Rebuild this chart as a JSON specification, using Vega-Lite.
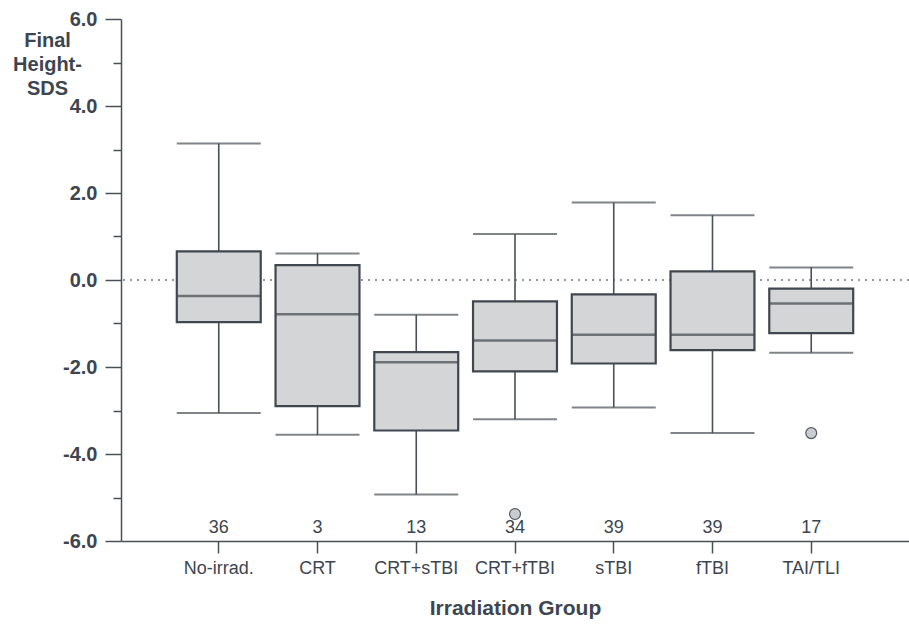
{
  "$schema": "https://vega.github.io/schema/vega-lite/v6.json",
  "width": 788,
  "height": 522,
  "autosize": {"type": "none"},
  "padding": {"left": 121, "top": 19, "right": 0, "bottom": 84},
  "background": "white",
  "config": {"view": {"stroke": null}, "font": "Liberation Sans"},
  "datasets": {
    "boxes": [
      {"group": "No-irrad.", "n": 36, "lower": -3.06, "q1": -0.97, "median": -0.37, "q3": 0.66, "upper": 3.14},
      {"group": "CRT", "n": 3, "lower": -3.56, "q1": -2.90, "median": -0.79, "q3": 0.34, "upper": 0.61},
      {"group": "CRT+sTBI", "n": 13, "lower": -4.93, "q1": -3.46, "median": -1.89, "q3": -1.66, "upper": -0.80},
      {"group": "CRT+fTBI", "n": 34, "lower": -3.20, "q1": -2.10, "median": -1.39, "q3": -0.49, "upper": 1.06},
      {"group": "sTBI", "n": 39, "lower": -2.93, "q1": -1.92, "median": -1.26, "q3": -0.33, "upper": 1.78},
      {"group": "fTBI", "n": 39, "lower": -3.52, "q1": -1.61, "median": -1.26, "q3": 0.20, "upper": 1.49},
      {"group": "TAI/TLI", "n": 17, "lower": -1.67, "q1": -1.22, "median": -0.54, "q3": -0.20, "upper": 0.29}
    ],
    "outliers": [
      {"group": "CRT+fTBI", "value": -5.38},
      {"group": "TAI/TLI", "value": -3.52}
    ]
  },
  "layer": [
    {
      "data": {"values": [{"ref": 0}]},
      "mark": {"type": "rule", "strokeDash": [2, 5], "color": "#6f767d", "strokeWidth": 1.5},
      "encoding": {
        "y": {"field": "ref", "type": "quantitative", "scale": {"domain": [-6, 6], "nice": false, "zero": false}}
      }
    },
    {
      "data": {"name": "boxes"},
      "layer": [
        {
          "mark": {"type": "rule", "color": "#4a5057", "strokeWidth": 1.6},
          "encoding": {
            "y": {"field": "lower", "type": "quantitative"},
            "y2": {"field": "upper"}
          }
        },
        {
          "mark": {"type": "bar", "fill": "#d4d5d6", "stroke": "#41474e", "strokeWidth": 2.2},
          "encoding": {
            "y": {"field": "q1", "type": "quantitative"},
            "y2": {"field": "q3"}
          }
        },
        {
          "mark": {"type": "tick", "size": 84, "thickness": 2.5, "color": "#41474e"},
          "encoding": {"y": {"field": "median", "type": "quantitative"}}
        },
        {
          "mark": {"type": "tick", "size": 84, "thickness": 2, "color": "#4a5057"},
          "encoding": {"y": {"field": "lower", "type": "quantitative"}}
        },
        {
          "mark": {"type": "tick", "size": 84, "thickness": 2, "color": "#4a5057"},
          "encoding": {"y": {"field": "upper", "type": "quantitative"}}
        },
        {
          "mark": {"type": "text", "font": "Liberation Sans", "fontSize": 18, "color": "#3d4650", "baseline": "middle"},
          "encoding": {
            "y": {"datum": -5.7},
            "text": {"field": "n", "type": "quantitative"}
          }
        }
      ],
      "encoding": {
        "x": {
          "field": "group",
          "type": "nominal",
          "sort": ["No-irrad.", "CRT", "CRT+sTBI", "CRT+fTBI", "sTBI", "fTBI", "TAI/TLI"],
          "scale": {"paddingInner": 0.15, "paddingOuter": 0.565}
        }
      }
    },
    {
      "data": {"name": "outliers"},
      "mark": {"type": "point", "shape": "circle", "filled": true, "size": 120, "fill": "#c9cdd2", "stroke": "#555b62", "strokeWidth": 1.2, "opacity": 1},
      "encoding": {
        "x": {"field": "group", "type": "nominal", "sort": ["No-irrad.", "CRT", "CRT+sTBI", "CRT+fTBI", "sTBI", "fTBI", "TAI/TLI"]},
        "y": {"field": "value", "type": "quantitative"}
      }
    }
  ],
  "resolve": {"scale": {"x": "shared", "y": "shared"}},
  "encoding": {
    "x": {
      "axis": {
        "title": "Irradiation Group",
        "titleFont": "Liberation Sans",
        "titleFontSize": 21,
        "titleFontWeight": "bold",
        "titleColor": "#3d4650",
        "titlePadding": 20,
        "labelFont": "Liberation Sans",
        "labelFontSize": 18,
        "labelColor": "#3d4650",
        "labelPadding": 6,
        "labelAngle": 0,
        "tickSize": 12,
        "tickColor": "#4a5057",
        "tickWidth": 1.5,
        "domainColor": "#4a5057",
        "domainWidth": 1.5,
        "grid": false
      }
    },
    "y": {
      "axis": {
        "values": [-6, -5, -4, -3, -2, -1, 0, 1, 2, 3, 4, 5, 6],
        "labelExpr": "datum.value % 2 === 0 ? replace(format(datum.value, '.1f'), '\u2212', '-') : ''",
        "tickSize": {"condition": {"test": "datum.value % 2 === 0", "value": 16}, "value": 8},
        "tickColor": "#4a5057",
        "tickWidth": 1.5,
        "domainColor": "#4a5057",
        "domainWidth": 1.5,
        "labelFont": "Liberation Sans",
        "labelFontSize": 20,
        "labelFontWeight": "bold",
        "labelColor": "#3d4650",
        "labelPadding": 8,
        "grid": false,
        "title": ["Final", "Height-", "SDS"],
        "titleAngle": 0,
        "titleAlign": "center",
        "titleBaseline": "top",
        "titleX": -74,
        "titleY": 11,
        "titleFont": "Liberation Sans",
        "titleFontSize": 20,
        "titleFontWeight": "bold",
        "titleColor": "#3d4650",
        "titleLineHeight": 24
      }
    }
  }
}
